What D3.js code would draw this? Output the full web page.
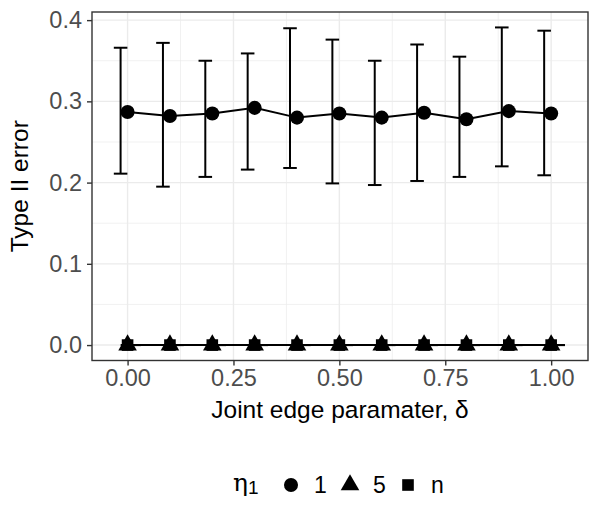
<!DOCTYPE html>
<html>
<head>
<meta charset="utf-8">
<script src="https://cdn.jsdelivr.net/npm/d3@7"></script>
<style>
  body { margin: 0; background: #fff; }
  text { font-family: "Liberation Sans", Arial, Helvetica, sans-serif; }
</style>
</head>
<body>
<div id="chart"></div>
<script>
var delta = [0, 0.1, 0.2, 0.3, 0.4, 0.5, 0.6, 0.7, 0.8, 0.9, 1.0];
var eta1Mean  = [0.287, 0.282, 0.285, 0.292, 0.280, 0.285, 0.280, 0.286, 0.278, 0.288, 0.285];
var eta1Upper = [0.366, 0.372, 0.350, 0.359, 0.390, 0.376, 0.350, 0.370, 0.355, 0.391, 0.387];
var eta1Lower = [0.211, 0.195, 0.207, 0.216, 0.218, 0.199, 0.197, 0.202, 0.207, 0.220, 0.209];
var eta5Mean  = [0, 0, 0, 0, 0, 0, 0, 0, 0, 0, 0];
var etaNMean  = [0, 0, 0, 0, 0, 0, 0, 0, 0, 0, 0];
var legendLabels = ["1", "5", "n"];
var xTicks = [0, 0.25, 0.5, 0.75, 1];
var yTicks = [0, 0.1, 0.2, 0.3, 0.4];

var svgWidth = 600, svgHeight = 525;
var panel = { left: 92, right: 588, top: 12, bottom: 360.5 };

var svg = d3.select("#chart").append("svg")
  .attr("width", svgWidth)
  .attr("height", svgHeight);

var x = d3.scaleLinear().domain([-0.084, 1.087]).range([panel.left, panel.right]);
var y = d3.scaleLinear().domain([-0.019, 0.41]).range([panel.bottom, panel.top]);

// series, with ggplot style dodge for the error bars
var dodge = 0.0165, capW = 0.016;
var series = [
  { mean: eta1Mean, lo: eta1Lower, hi: eta1Upper, shape: d3.symbolCircle, off: -dodge },
  { mean: eta5Mean, lo: eta5Mean, hi: eta5Mean, shape: d3.symbolTriangle, off: 0 },
  { mean: etaNMean, lo: etaNMean, hi: etaNMean, shape: d3.symbolSquare, off: dodge }
];
var sizes = [155, 150, 135];

// grid
var grid = svg.append("g");
[0.125, 0.375, 0.625, 0.875].forEach(function(v) {
  grid.append("line").attr("x1", x(v)).attr("x2", x(v)).attr("y1", panel.top).attr("y2", panel.bottom)
    .attr("stroke", "#ebebeb").attr("stroke-width", 0.7);
});
[0.05, 0.15, 0.25, 0.35].forEach(function(v) {
  grid.append("line").attr("y1", y(v)).attr("y2", y(v)).attr("x1", panel.left).attr("x2", panel.right)
    .attr("stroke", "#ebebeb").attr("stroke-width", 0.7);
});
xTicks.forEach(function(v) {
  grid.append("line").attr("x1", x(v)).attr("x2", x(v)).attr("y1", panel.top).attr("y2", panel.bottom)
    .attr("stroke", "#ebebeb").attr("stroke-width", 1.4);
});
yTicks.forEach(function(v) {
  grid.append("line").attr("y1", y(v)).attr("y2", y(v)).attr("x1", panel.left).attr("x2", panel.right)
    .attr("stroke", "#ebebeb").attr("stroke-width", 1.4);
});

// error bars
series.forEach(function(s) {
  var g = svg.append("g").attr("stroke", "#000").attr("stroke-width", 2).attr("fill", "none");
  delta.forEach(function(d, i) {
    var cx = x(d + s.off);
    g.append("line").attr("x1", cx).attr("x2", cx).attr("y1", y(s.lo[i])).attr("y2", y(s.hi[i]));
    g.append("line").attr("x1", x(d + s.off - capW)).attr("x2", x(d + s.off + capW))
      .attr("y1", y(s.lo[i])).attr("y2", y(s.lo[i]));
    g.append("line").attr("x1", x(d + s.off - capW)).attr("x2", x(d + s.off + capW))
      .attr("y1", y(s.hi[i])).attr("y2", y(s.hi[i]));
  });
});

// lines
var line = d3.line().x(function(d) { return x(d[0]); }).y(function(d) { return y(d[1]); });
series.forEach(function(s) {
  svg.append("path")
    .datum(delta.map(function(d, i) { return [d, s.mean[i]]; }))
    .attr("d", line).attr("fill", "none").attr("stroke", "#000").attr("stroke-width", 2);
});

// points
series.forEach(function(s, k) {
  svg.append("g").selectAll("path")
    .data(delta)
    .enter().append("path")
    .attr("transform", function(d, i) { return "translate(" + x(d) + "," + y(s.mean[i]) + ")"; })
    .attr("d", d3.symbol().type(s.shape).size(sizes[k]))
    .attr("fill", "#000");
});

// panel border
svg.append("rect")
  .attr("x", panel.left).attr("y", panel.top)
  .attr("width", panel.right - panel.left).attr("height", panel.bottom - panel.top)
  .attr("fill", "none").attr("stroke", "#333").attr("stroke-width", 1.4);

// axes
var bottomAxis = d3.axisBottom(x).tickValues(xTicks).tickFormat(d3.format(".2f")).tickSize(5).tickPadding(4);
var leftAxis = d3.axisLeft(y).tickValues(yTicks).tickFormat(d3.format(".1f")).tickSize(5).tickPadding(5);

var gx = svg.append("g").attr("transform", "translate(0," + panel.bottom + ")").call(bottomAxis);
var gy = svg.append("g").attr("transform", "translate(" + panel.left + ",0)").call(leftAxis);
[gx, gy].forEach(function(g) {
  g.select(".domain").remove();
  g.selectAll(".tick line").attr("stroke", "#333").attr("stroke-width", 1.4);
  g.selectAll(".tick text").attr("fill", "#4d4d4d").style("font-size", "23.5px")
    .style("font-family", "'Liberation Sans', Arial, sans-serif");
});

// axis titles
svg.append("text")
  .attr("x", (panel.left + panel.right) / 2).attr("y", 418)
  .attr("text-anchor", "middle").style("font-size", "24.5px").attr("fill", "#000")
  .text("Joint edge paramater, δ");

svg.append("text")
  .attr("transform", "translate(28," + ((panel.top + panel.bottom) / 2) + ") rotate(-90)")
  .attr("text-anchor", "middle").style("font-size", "24.5px").attr("fill", "#000")
  .text("Type II error");

// legend
var legend = svg.append("g");
var eta = legend.append("text").attr("x", 233).attr("y", 491).attr("fill", "#000")
  .style("font-family", "'DejaVu Serif', 'Liberation Serif', serif");
eta.append("tspan").style("font-size", "25px").text("η");
eta.append("tspan").attr("dy", 3).style("font-size", "19px")
  .style("font-family", "'Liberation Sans', Arial, sans-serif").text("1");

var legendX = [291, 350, 408];
var legendShapes = [d3.symbolCircle, d3.symbolTriangle, d3.symbolSquare];
legendLabels.forEach(function(lab, i) {
  legend.append("path")
    .attr("transform", "translate(" + legendX[i] + ",485)")
    .attr("d", d3.symbol().type(legendShapes[i]).size(sizes[i]))
    .attr("fill", "#000");
  legend.append("text")
    .attr("x", legendX[i] + 23).attr("y", 493)
    .style("font-size", "23px").attr("fill", "#000")
    .text(lab);
});
</script>
</body>
</html>
